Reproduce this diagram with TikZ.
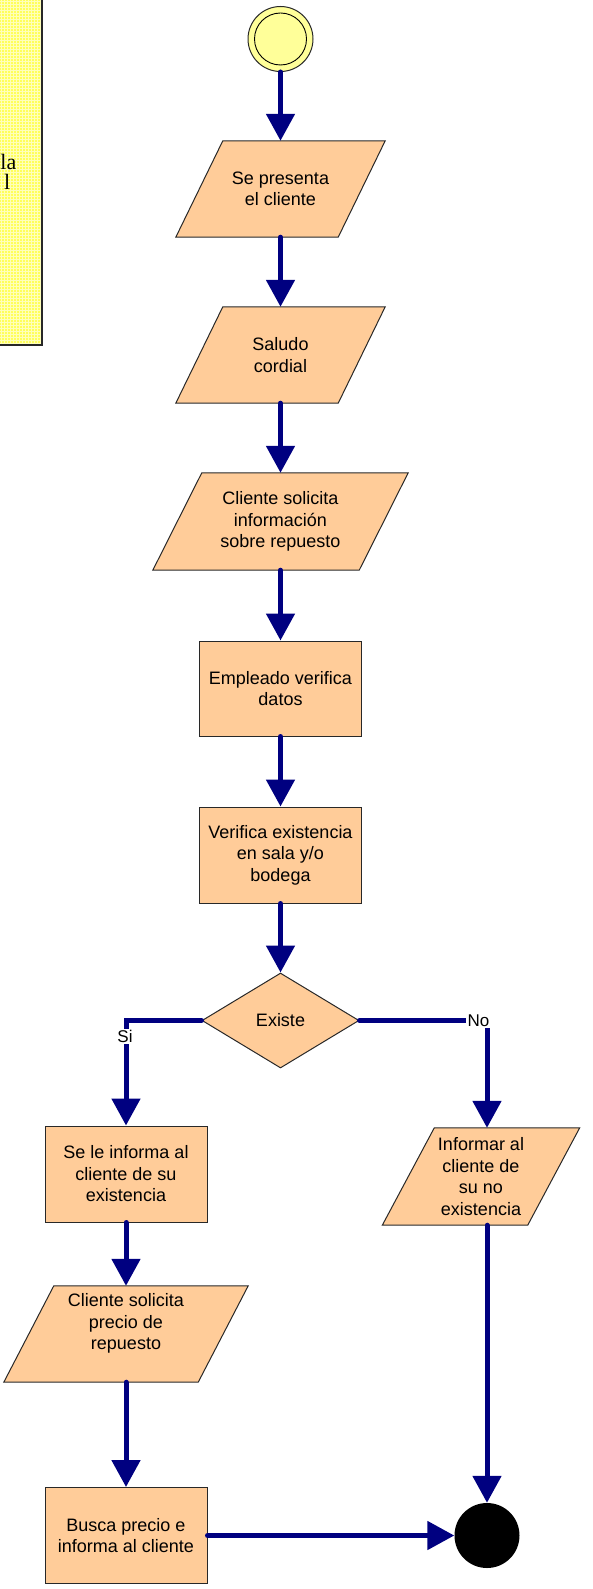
\documentclass[tikz,border=0pt]{standalone}
\usepackage{fontspec}
\setmainfont{Liberation Sans}
\newfontfamily\serifnote{Liberation Serif}
\usetikzlibrary{arrows.meta,shapes.geometric,backgrounds,calc}
\definecolor{navyline}{RGB}{0,0,128}
\definecolor{peach}{RGB}{255,204,153}
\definecolor{startfill}{RGB}{255,255,153}
\definecolor{notefill}{RGB}{255,255,90}
\definecolor{notegrid}{RGB}{255,255,185}
\definecolor{edgegray}{RGB}{40,40,40}
\newcommand\drawpara[2]{\draw[pshape] ($(#1.north west)+(#2,0)$) -- ($(#1.north east)+(#2,0)$) -- ($(#1.south east)+(-#2,0)$) -- ($(#1.south west)+(-#2,0)$) -- cycle;}
\begin{document}
\begin{tikzpicture}[x=1pt,y=-1pt,
  flow/.style={line width=5pt, draw=navyline, line cap=round, -{Triangle[width=28pt,length=27pt]}},
  txt/.style={font=\fontsize{18}{21.5}\selectfont, align=center, text=black, inner sep=0pt},
  boxnode/.style={txt, draw=edgegray, fill=peach, line width=1pt, minimum width=162pt, minimum height=96pt},
  pnode/.style={txt, minimum height=96pt},
  pshape/.style={draw=edgegray, fill=peach, line width=1pt},
  lbl/.style={font=\fontsize{17}{20}\selectfont, fill=white, inner sep=1.5pt, text=black},
]
\useasboundingbox (0,0) rectangle (593,1589);

% note on the left
\fill[notefill] (-10,-10) rectangle (42,345);
\foreach \yy in {1.5,4.5,...,345} {\draw[notegrid, line width=0.7pt] (-10,\yy) -- (42,\yy);}
\foreach \xx in {1.5,4.5,...,42} {\draw[notegrid, line width=0.7pt] (\xx,-10) -- (\xx,345);}
\draw[edgegray, line width=1.2pt] (-10,345) -- (42,345) -- (42,-10);
\node[font=\serifnote\fontsize{22}{24}\selectfont, anchor=base east, inner sep=0pt] (notea) at (16.5,170) {la};
\node[font=\serifnote\fontsize{22}{24}\selectfont, anchor=base east, inner sep=0pt] (noteb) at (10.5,190) {l};

% start
\node[circle, draw=edgegray, fill=startfill, line width=1pt, minimum size=65pt, inner sep=0pt] (start) at (280.5,39) {};
\node[circle, draw=black, line width=0.9pt, minimum size=52pt, inner sep=0pt] (starti) at (start.center) {};

% nodes
\node[pnode, minimum width=162pt] (p1) at (280.5,189) {Se presenta\\el cliente};
\node[pnode, minimum width=162pt] (p2) at (280.5,355) {Saludo\\cordial};
\node[pnode, minimum width=206pt, minimum height=97pt] (p3) at (280.5,521.5) {Cliente solicita\\información\\sobre repuesto};
\node[boxnode, minimum height=95pt] (b1) at (280.5,688.5) {Empleado verifica\\datos};
\node[boxnode] (b2) at (280.5,855) {Verifica existencia\\en sala y/o\\bodega};
\node[diamond, draw=edgegray, fill=peach, line width=1pt, minimum width=157pt, minimum height=95pt, txt] (d) at (280.5,1020.5) {Existe};
\node[boxnode] (b3) at (126,1174) {Se le informa al\\cliente de su\\existencia};
\node[pnode, minimum width=145pt, minimum height=97pt] (p4) at (481,1176.5) {Informar al\\cliente de\\su no\\existencia};
\node[pnode, minimum width=194pt] (p5) at (126,1334) {};
\node[txt] (p5t) at ($(p5.center)+(0,-10.5)$) {Cliente solicita\\precio de\\repuesto};
\node[boxnode] (b5) at (126,1535.5) {Busca precio e\\informa al cliente};
\node[circle, fill=black, minimum size=65pt, inner sep=0pt] (end) at (487,1535.5) {};

\begin{scope}[on background layer]
\drawpara{p1}{23.5}
\drawpara{p2}{23.5}
\drawpara{p3}{24.5}
\drawpara{p4}{26}
\drawpara{p5}{25}
\end{scope}

% connectors
\draw[flow] (start) -- (p1);
\draw[flow] (p1) -- (p2);
\draw[flow] (p2) -- (p3);
\draw[flow] (p3) -- (b1);
\draw[flow] (b1) -- (b2);
\draw[flow] (b2) -- (d);
\draw[flow] (d.west) -| (b3.north);
\draw[flow] (d.east) -| ([xshift=6pt]p4.north);
\draw[flow] (b3) -- (p5);
\draw[flow] (p5) -- (b5);
\draw[flow] ([xshift=6pt]p4.south) -- (end);
\draw[flow] (b5) -- (end);

% labels
\node[lbl] (si) at (125,1036.5) {Si};
\node[lbl] (no) at (478.5,1021) {No};
\end{tikzpicture}
\end{document}
